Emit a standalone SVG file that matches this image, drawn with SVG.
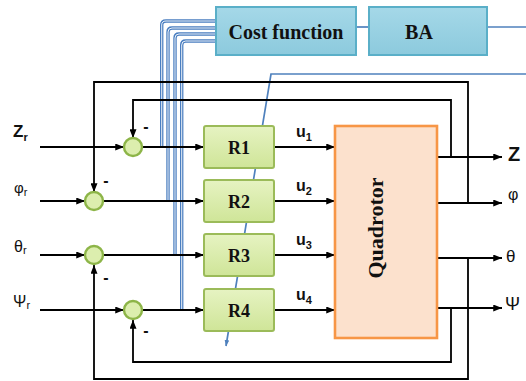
<svg xmlns="http://www.w3.org/2000/svg" width="526" height="381" viewBox="0 0 526 381">
<defs>
<marker id="arr" viewBox="0 0 10 8" refX="10" refY="4" markerWidth="9" markerHeight="7" markerUnits="userSpaceOnUse" orient="auto"><path d="M0,0 L10,4 L0,8 z" fill="#000"/></marker>
<marker id="barr" viewBox="0 0 10 8" refX="10" refY="4" markerWidth="6" markerHeight="5" markerUnits="userSpaceOnUse" orient="auto"><path d="M0,0 L10,4 L0,8 z" fill="#4F81BD"/></marker>
<linearGradient id="gG" x1="0" y1="0" x2="0" y2="1"><stop offset="0" stop-color="#E6F3C2"/><stop offset="1" stop-color="#CFE598"/></linearGradient>
<linearGradient id="gB" x1="0" y1="0" x2="0" y2="1"><stop offset="0" stop-color="#A5D8E8"/><stop offset="1" stop-color="#8CCADD"/></linearGradient>
<style>
.blk{fill:none;stroke:#000;stroke-width:1.8}
.bl2{fill:none;stroke:#4A7EC0;stroke-width:3.4}
.bl2i{fill:none;stroke:#FFFFFF;stroke-width:0.9}
.bl{fill:none;stroke:#4F81BD;stroke-width:1.7}
.rbox{fill:url(#gG);stroke:#9BBB59;stroke-width:2}
.sum{fill:#DCEEAE;stroke:#8DB548;stroke-width:2.4}
.cbox{fill:url(#gB);stroke:#5AAFC8;stroke-width:2}
.serif{font-family:"Liberation Serif","Times New Roman",serif;font-weight:bold;fill:#111}
.sans{font-family:"Liberation Sans",Arial,sans-serif;fill:#111}
</style>
</defs>
<rect width="526" height="381" fill="#fff"/>

<g id="connectors">
  <g id="blue-bus">
    <path class="bl2" d="M216 21 H166 Q161.7 21 161.7 25 V147"/>
    <path class="bl2" d="M216 28 H172 Q168 28 168 32 V201"/>
    <path class="bl2" d="M216 34 H179 Q175 34 175 38 V255"/>
    <path class="bl2" d="M216 41 H185.7 Q181.7 41 181.7 45 V310"/>
    <path class="bl2i" d="M216 21 H166 Q161.7 21 161.7 25 V146"/>
    <path class="bl2i" d="M216 28 H172 Q168 28 168 32 V200"/>
    <path class="bl2i" d="M216 34 H179 Q175 34 175 38 V254"/>
    <path class="bl2i" d="M216 41 H185.7 Q181.7 41 181.7 45 V309"/>
  </g>
  <path class="bl" d="M356 27 H369"/>
  <path class="bl" d="M487 27 H526"/>
  <path class="bl" d="M526 74 H271 L226 346" marker-end="url(#barr)"/>

  <path class="blk" d="M468 203 V82 H94 V192" marker-end="url(#arr)"/>
  <path class="blk" d="M451 157 V100 H133 V138" marker-end="url(#arr)"/>
  <path class="blk" d="M468 258 V379 H94 V265" marker-end="url(#arr)"/>
  <path class="blk" d="M451 308 V362 H133 V320" marker-end="url(#arr)"/>

  <path class="blk" d="M40 147 H124" marker-end="url(#arr)"/>
  <path class="blk" d="M40 201 H85" marker-end="url(#arr)"/>
  <path class="blk" d="M40 255 H85" marker-end="url(#arr)"/>
  <path class="blk" d="M40 310 H124" marker-end="url(#arr)"/>

  <path class="blk" d="M142 147 H204" marker-end="url(#arr)"/>
  <path class="blk" d="M103 201 H204" marker-end="url(#arr)"/>
  <path class="blk" d="M103 255 H204" marker-end="url(#arr)"/>
  <path class="blk" d="M142 310 H204" marker-end="url(#arr)"/>

  <path class="blk" d="M274 147 H335" marker-end="url(#arr)"/>
  <path class="blk" d="M274 201 H335" marker-end="url(#arr)"/>
  <path class="blk" d="M274 255 H335" marker-end="url(#arr)"/>
  <path class="blk" d="M274 310 H335" marker-end="url(#arr)"/>

  <path class="blk" d="M437 157 H502" marker-end="url(#arr)"/>
  <path class="blk" d="M437 203 H502" marker-end="url(#arr)"/>
  <path class="blk" d="M437 258 H502" marker-end="url(#arr)"/>
  <path class="blk" d="M437 308 H502" marker-end="url(#arr)"/>
</g>

<g id="cost">
  <rect class="cbox" x="216" y="7" width="140" height="48"/>
  <text class="serif" x="286" y="39" font-size="20" text-anchor="middle">Cost function</text>
</g>
<g id="ba">
  <rect class="cbox" x="369" y="7" width="118" height="48"/>
  <text class="serif" x="419" y="39" font-size="20" text-anchor="middle">BA</text>
</g>

<g id="sum1"><circle class="sum" cx="133" cy="147" r="9"/><text class="sans" x="146" y="132" font-size="16" font-weight="bold" text-anchor="middle">-</text></g>
<g id="sum2"><circle class="sum" cx="94" cy="201" r="9"/><text class="sans" x="106" y="186" font-size="16" font-weight="bold" text-anchor="middle">-</text></g>
<g id="sum3"><circle class="sum" cx="94" cy="255" r="9"/><text class="sans" x="106" y="283" font-size="16" font-weight="bold" text-anchor="middle">-</text></g>
<g id="sum4"><circle class="sum" cx="133" cy="310" r="9"/><text class="sans" x="146" y="336" font-size="16" font-weight="bold" text-anchor="middle">-</text></g>

<g id="R1"><rect class="rbox" x="204" y="126" width="70" height="42" rx="2"/><text class="serif" x="239" y="154" font-size="18" text-anchor="middle">R1</text></g>
<g id="R2"><rect class="rbox" x="204" y="180" width="70" height="42" rx="2"/><text class="serif" x="239" y="208" font-size="18" text-anchor="middle">R2</text></g>
<g id="R3"><rect class="rbox" x="204" y="234" width="70" height="42" rx="2"/><text class="serif" x="239" y="262" font-size="18" text-anchor="middle">R3</text></g>
<g id="R4"><rect class="rbox" x="204" y="289" width="70" height="42" rx="2"/><text class="serif" x="239" y="317" font-size="18" text-anchor="middle">R4</text></g>

<g id="quadrotor">
  <rect x="335" y="126" width="102" height="212" fill="#FCE1CD" stroke="#F79646" stroke-width="2.6"/>
  <text class="serif" transform="translate(383 228) rotate(-90)" font-size="22" text-anchor="middle">Quadrotor</text>
</g>

<g id="labels" class="sans">
  <text x="296" y="137" font-size="16" font-weight="bold">u<tspan font-size="11" dy="4">1</tspan></text>
  <text x="296" y="191" font-size="16" font-weight="bold">u<tspan font-size="11" dy="4">2</tspan></text>
  <text x="296" y="245" font-size="16" font-weight="bold">u<tspan font-size="11" dy="4">3</tspan></text>
  <text x="296" y="300" font-size="16" font-weight="bold">u<tspan font-size="11" dy="4">4</tspan></text>

  <text x="13" y="137" font-size="17" font-weight="bold">Z<tspan font-size="11" dy="4">r</tspan></text>
  <text x="14" y="193" font-size="15">φ<tspan font-size="11" dy="3">r</tspan></text>
  <text x="14" y="252" font-size="16">θ<tspan font-size="11" dy="2">r</tspan></text>
  <text x="13" y="307" font-size="16">Ψ<tspan font-size="11" dy="2">r</tspan></text>

  <text x="508" y="161" font-size="20" font-weight="bold">Z</text>
  <text x="508" y="200" font-size="16">φ</text>
  <text x="506" y="262" font-size="17">θ</text>
  <text x="505" y="310" font-size="18">Ψ</text>
</g>
</svg>
